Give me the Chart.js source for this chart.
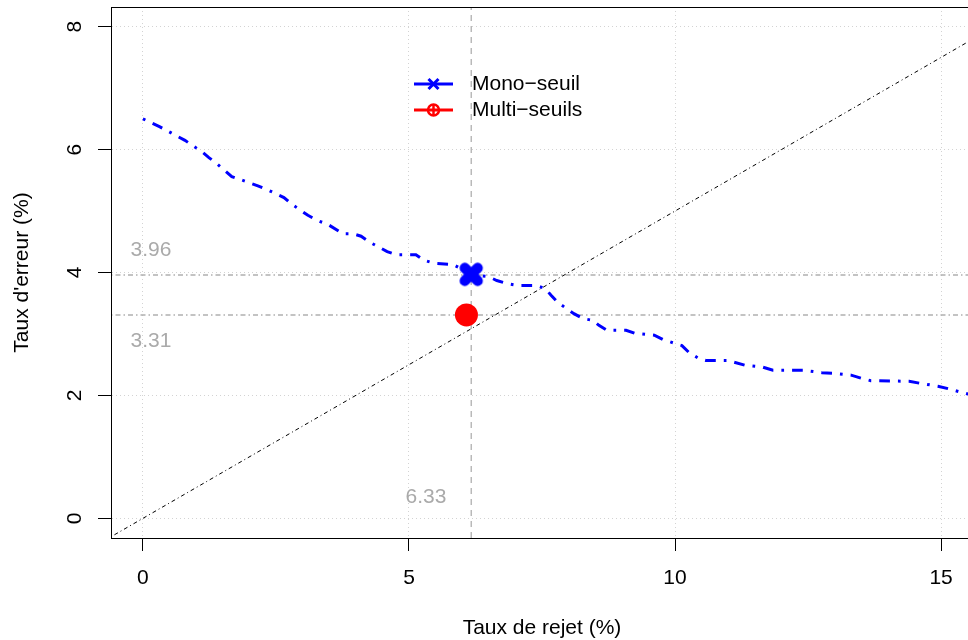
<!DOCTYPE html>
<html><head><meta charset="utf-8">
<script src="https://cdn.jsdelivr.net/npm/chart.js@4.4.0/dist/chart.umd.min.js"></script>
<style>
html,body{margin:0;padding:0;background:#fff;overflow:hidden;width:968px;height:640px;}
#wrap{position:relative;width:976px;height:640px;}
canvas{display:block;}
</style></head><body>
<div id="wrap"><canvas id="c" width="976" height="640"></canvas></div>
<script>
// ---- data ----
const rejectRate = [0, 0.32, 0.49, 0.79, 0.96, 1.13, 1.24, 1.39, 1.67, 1.84, 2.16, 2.33, 2.65, 2.80, 3.10, 3.27, 3.48, 3.76, 3.95, 4.10, 4.27, 4.59, 4.76, 5.13, 5.28, 5.47, 5.83, 6.17, 6.50, 6.65, 6.84, 7.05, 7.39, 7.56, 7.67, 7.80, 8.10, 8.27, 8.46, 8.57, 8.72, 9.08, 9.25, 9.61, 9.77, 10.13, 10.26, 10.45, 10.58, 10.98, 11.11, 11.32, 11.65, 11.84, 12.41, 12.76, 12.95, 13.31, 13.50, 13.68, 14.40, 14.59, 14.94, 15.13, 15.60];
const errorRate  = [6.50, 6.37, 6.29, 6.15, 6.05, 5.95, 5.87, 5.77, 5.56, 5.51, 5.41, 5.35, 5.22, 5.11, 4.93, 4.85, 4.78, 4.63, 4.63, 4.59, 4.49, 4.34, 4.29, 4.29, 4.20, 4.15, 4.13, 3.97, 3.93, 3.87, 3.82, 3.79, 3.79, 3.74, 3.63, 3.51, 3.33, 3.25, 3.22, 3.14, 3.06, 3.06, 3.01, 2.98, 2.91, 2.81, 2.70, 2.60, 2.57, 2.57, 2.54, 2.49, 2.46, 2.41, 2.41, 2.37, 2.36, 2.33, 2.28, 2.24, 2.23, 2.20, 2.15, 2.11, 2.00];
const monoX = [6.17], monoY = [3.97];
const multiX = [6.08], multiY = [3.31];
const refHLines = [3.96, 3.31];
const refVLines = [6.17];
const diagX = [-0.6, 15.6], diagY = [-0.3, 7.8];
const refLabels = ['3.96', '3.31', '6.33'];
const refLabelX = [0.15, 0.15, 5.32];
const refLabelY = [4.37, 2.88, 0.34];
const xTicks = [0, 5, 10, 15];
const yTicks = [0, 2, 4, 6, 8];
const seriesNames = ['Mono\u2212seuil', 'Multi\u2212seuils'];
const xTitle = 'Taux de rejet (%)';
const yTitle = "Taux d'erreur (%)";
const xRange = [-0.6, 15.6], yRange = [-0.32, 8.32];

const FONT = '"Liberation Sans", Arial, Helvetica, sans-serif';
const FS = 21;
const GRAY = '#aaaaaa';
const LINEGRAY = '#b0b0b0';

// thick rotated cross marker (round caps)
function makeCross(color) {
  const c = document.createElement('canvas');
  c.width = 28; c.height = 28;
  const g = c.getContext('2d');
  g.strokeStyle = color; g.lineWidth = 10.5; g.lineCap = 'round';
  const m = 14, d = 6.4;
  g.beginPath();
  g.moveTo(m - d, m - d); g.lineTo(m + d, m + d);
  g.moveTo(m + d, m - d); g.lineTo(m - d, m + d);
  g.stroke();
  return c;
}

const zip = (xs, ys) => xs.map((x, i) => ({x: x, y: ys[i]}));

const datasets = [
  {label: 'multi', data: zip(multiX, multiY), pointRadius: 11.5, pointBackgroundColor: '#ff0000', pointBorderWidth: 0, showLine: false},
  {label: 'mono', data: zip(monoX, monoY), pointStyle: makeCross('#0000ff'), pointRadius: 12, showLine: false},
  {label: 'curve', data: zip(rejectRate, errorRate), showLine: true, borderColor: '#0000ff', borderWidth: 3, borderDash: [2.7, 8, 10.7, 8], pointRadius: 0, tension: 0},
  {label: 'diag', data: zip(diagX, diagY), showLine: true, borderColor: '#000', borderWidth: 1, borderDash: [1, 3, 4, 3], pointRadius: 0},
];
refHLines.forEach(v => datasets.push({label: 'h', data: zip(xRange, [v, v]), showLine: true, borderColor: LINEGRAY, borderWidth: 1.5, borderDash: [1.5, 3, 5, 3], pointRadius: 0}));
refVLines.forEach(v => datasets.push({label: 'v', data: zip([v, v], yRange), showLine: true, borderColor: LINEGRAY, borderWidth: 1.3, borderDash: [6, 5], pointRadius: 0}));

const decor = {
  id: 'decor',
  afterDraw(chart) {
    const ctx = chart.ctx, a = chart.chartArea;
    const xs = chart.scales.x, ys = chart.scales.y;
    ctx.save();
    // box
    ctx.strokeStyle = '#000'; ctx.lineWidth = 1;
    ctx.strokeRect(Math.round(a.left) + 0.5, Math.round(a.top) + 0.5, Math.round(a.right - a.left), Math.round(a.bottom - a.top));
    ctx.font = FS + 'px ' + FONT;
    ctx.fillStyle = '#000';
    // y tick labels rotated
    ctx.textAlign = 'center'; ctx.textBaseline = 'middle';
    yTicks.forEach(v => {
      const py = ys.getPixelForValue(v);
      ctx.save(); ctx.translate(75, py); ctx.rotate(-Math.PI / 2);
      ctx.fillText(String(v), 0, 0); ctx.restore();
    });
    // axis titles
    ctx.fillText(xTitle, (a.left + a.right) / 2, 628);
    ctx.save(); ctx.translate(22, (a.top + a.bottom) / 2); ctx.rotate(-Math.PI / 2);
    ctx.fillText(yTitle, 0, 0); ctx.restore();
    // reference labels
    ctx.fillStyle = GRAY;
    refLabels.forEach((t, i) => ctx.fillText(t, xs.getPixelForValue(refLabelX[i]), ys.getPixelForValue(refLabelY[i])));
    // legend
    const lx0 = 414, lx1 = 453, lxm = 433.5, ly = [84, 110];
    const cols = ['#0000ff', '#ff0000'];
    ctx.lineWidth = 3; ctx.lineCap = 'butt';
    ly.forEach((y, i) => {
      ctx.strokeStyle = cols[i];
      ctx.beginPath(); ctx.moveTo(lx0, y); ctx.lineTo(lx1, y); ctx.stroke();
    });
    // x marker
    ctx.strokeStyle = cols[0]; ctx.lineWidth = 3;
    ctx.beginPath();
    ctx.moveTo(lxm - 5, ly[0] - 5); ctx.lineTo(lxm + 5, ly[0] + 5);
    ctx.moveTo(lxm + 5, ly[0] - 5); ctx.lineTo(lxm - 5, ly[0] + 5);
    ctx.stroke();
    // circle-plus marker
    ctx.strokeStyle = cols[1]; ctx.lineWidth = 2.5;
    ctx.beginPath(); ctx.arc(lxm, ly[1], 5.5, 0, Math.PI * 2); ctx.stroke();
    ctx.beginPath();
    ctx.moveTo(lxm, ly[1] - 5.5); ctx.lineTo(lxm, ly[1] + 5.5);
    ctx.stroke();
    ctx.fillStyle = '#000'; ctx.textAlign = 'left';
    seriesNames.forEach((t, i) => ctx.fillText(t, 472, ly[i]));
    ctx.restore();
  }
};

new Chart(document.getElementById('c'), {
  type: 'scatter',
  data: {datasets: datasets},
  options: {
    responsive: false, animation: false, devicePixelRatio: 1,
    layout: {autoPadding: false, padding: {left: 0, top: 7, right: 3, bottom: 0}},
    plugins: {legend: {display: false}, tooltip: {enabled: false}},
    scales: {
      x: {
        type: 'linear', min: xRange[0], max: xRange[1],
        afterBuildTicks: s => { s.ticks = xTicks.map(v => ({value: v})); },
        afterFit: s => { s.height = 102; },
        grid: {color: '#d3d3d3', lineWidth: 1, tickColor: '#000', tickLength: 13, tickWidth: 1, tickBorderDash: []},
        border: {display: true, color: '#000', width: 1, dash: [1, 3]},
        ticks: {color: '#000', font: {size: FS, family: FONT}, padding: 15, maxRotation: 0}
      },
      y: {
        type: 'linear', min: yRange[0], max: yRange[1],
        afterBuildTicks: s => { s.ticks = yTicks.map(v => ({value: v})); },
        afterFit: s => { s.width = 111; },
        grid: {color: '#d3d3d3', lineWidth: 1, tickColor: '#000', tickLength: 13, tickWidth: 1, tickBorderDash: []},
        border: {display: true, color: '#000', width: 1, dash: [1, 3]},
        ticks: {display: false}
      }
    }
  },
  plugins: [decor]
});
</script>
</body></html>
